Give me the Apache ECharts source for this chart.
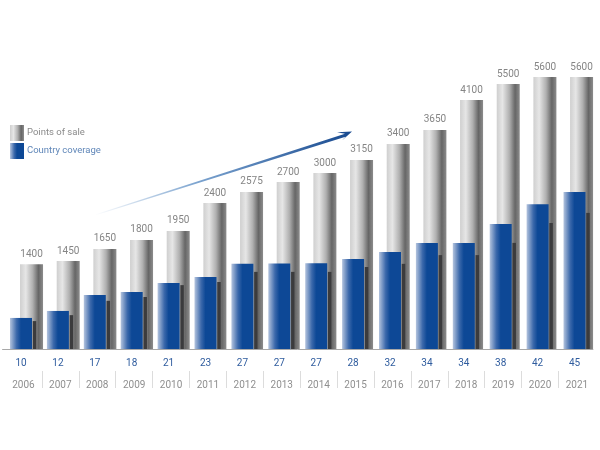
<!DOCTYPE html>
<html>
<head>
<meta charset="utf-8">
<style>html,body{margin:0;padding:0;background:#fff}#c{width:600px;height:450px}</style>
<script src="https://cdn.jsdelivr.net/npm/echarts@6/dist/echarts.min.js"></script>
</head>
<body>
<div id="c"></div>
<script>
const years = ['2006','2007','2008','2009','2010','2011','2012','2013','2014','2015','2016','2017','2018','2019','2020','2021'];
const salesLabels = [1400,1450,1650,1800,1950,2400,2575,2700,3000,3150,3400,3650,4100,5500,5600,5600];
// bar levels as drawn in the picture (the original graphic is not to a linear scale)
const salesLevels = [1750,1815,2065,2250,2435,3010,3240,3445,3630,3900,4230,4520,5135,5465,5610,5610];
const coverageLabels = [10,12,17,18,21,23,27,27,27,28,32,34,34,38,42,45];
const coverageLevels = [8.9,10.9,15.5,16.3,18.9,20.6,24.4,24.5,24.6,25.8,27.8,30.4,30.4,35.8,41.5,45];
const shadowLevels = [8,9.7,13.8,14.9,18.3,19.2,22.1,22.1,22.1,23.5,24.4,26.9,26.9,30.4,36.1,39];

const font = 'Roboto';
const grad = stops => ({type:'linear',x:0,y:0,x2:1,y2:0,colorStops:stops.map(s=>({offset:s[0],color:s[1]}))});
const grayFill = grad([[0,'#cfcfcf'],[0.25,'#e6e6e6'],[0.55,'#b0b0b0'],[0.8,'#666666'],[1,'#8c8c8c']]);
const blueFill = grad([[0,'#b4c4de'],[0.3,'#3c69ab'],[0.5,'#0d4896'],[1,'#0d4896']]);

const hiddenY = (i,max)=>({gridIndex:i,type:'value',min:0,max,show:false});
const hiddenX = (i,data)=>({gridIndex:i,type:'category',data,show:false});

const option = {
  animation:false,
  backgroundColor:'#fff',
  textStyle:{fontFamily:font},
  legend:{
    left:10, top:125, orient:'vertical', icon:'rect',
    itemWidth:14, itemHeight:16, itemGap:2, padding:0,
    selectedMode:false,
    textStyle:{fontFamily:font,fontSize:9.5,padding:[0,0,0,-2]},
    data:[
      {name:'Points of sale',textStyle:{color:'#8a8a8a',padding:[0,0,0,-2]}},
      {name:'Country coverage',textStyle:{color:'#5f86b8',padding:[0,0,0,-2]}}
    ]
  },
  grid:[
    {left:13.2,top:0,width:586.7,height:349},
    {left:2.55,top:0,width:590.4,height:349},
    {left:34.5,top:0,width:553.5,height:349},
    {left:5,top:349,width:590.4,height:22},
    {left:41.9,top:349,width:516.6,height:22}
  ],
  xAxis:[
    hiddenX(0,years),
    {gridIndex:1,type:'category',data:years,
      axisLine:{show:true,lineStyle:{color:'#a8a8a8',width:1}},axisTick:{show:false},
      axisLabel:{margin:9,fontFamily:font,fontSize:10,color:'#2f5c9e',interval:0,
        formatter:(v,i)=>String(coverageLabels[i])}},
    {gridIndex:2,type:'category',data:years,show:false,boundaryGap:false},
    {gridIndex:3,type:'category',data:years,
      axisLine:{show:false},axisTick:{show:false},
      axisLabel:{margin:9,fontFamily:font,fontSize:10,color:'#8f8f8f',interval:0}},
    {gridIndex:4,type:'category',data:years.slice(1),boundaryGap:false,
      axisLine:{show:false},axisLabel:{show:false},
      axisTick:{show:true,length:17,interval:0,lineStyle:{color:'#dcdcdc',width:1}}}
  ],
  yAxis:[hiddenY(0,7200),hiddenY(1,100),hiddenY(2,100),hiddenY(3,1),hiddenY(4,1)],
  series:[
    {name:'Points of sale',type:'bar',xAxisIndex:0,yAxisIndex:0,data:salesLevels,barWidth:23,
      itemStyle:{color:grayFill},
      label:{show:true,position:'top',distance:5,fontFamily:font,fontSize:10,color:'#858585',
        formatter:p=>String(salesLabels[p.dataIndex])}},
    {name:'Shadow',type:'bar',xAxisIndex:2,yAxisIndex:2,data:shadowLevels,barWidth:3.5,
      itemStyle:{color:'#3b3b3d'}},
    {name:'Country coverage',type:'bar',xAxisIndex:1,yAxisIndex:1,data:coverageLevels,barWidth:22,
      itemStyle:{color:blueFill}}
  ],
  graphic:[{
    type:'polygon',z:10,
    shape:{points:[[95,214.6],[345,133.8],[337,132.3],[352,131.5],[342,140.5],[345.5,136.8],[95,215.6]]},
    style:{fill:{type:'linear',x:0,y:0,x2:1,y2:0,colorStops:[
      {offset:0,color:'#ffffff'},{offset:0.4,color:'#7ba3cf'},{offset:1,color:'#17498f'}]}}
  }]
};
echarts.init(document.getElementById('c'),null,{renderer:'canvas'}).setOption(option);
</script>
</body>
</html>
